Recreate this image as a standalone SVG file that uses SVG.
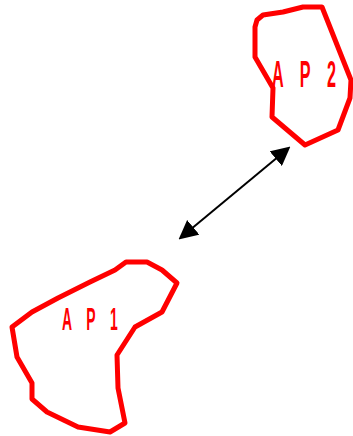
<svg xmlns="http://www.w3.org/2000/svg" width="353" height="436" viewBox="0 0 353 436">
<style>
.ap{fill:none;stroke:#ff0000;stroke-width:5;stroke-linejoin:round}
.lbl{font-family:"Liberation Sans",Arial,sans-serif;font-weight:bold;fill:#ff0000}
.conn{stroke:#000;stroke-width:2;fill:none}
</style>
<defs>
<marker id="ah" markerUnits="userSpaceOnUse" markerWidth="19" markerHeight="19" refX="7" refY="9" orient="auto-start-reverse" viewBox="0 0 18 18">
<path d="M0,0 L18,9 L0,18 z" fill="#000"/>
</marker>
</defs>
<rect width="353" height="436" fill="#fff"/>
<g id="ap2">
<polygon class="ap" points="257,20 263,15 283,12 303,7 322,7 351,80 350,98 338,130 305,145 272,117 273,88 255,57 255,27"/>
<text class="lbl" font-size="36" transform="translate(272,87) scale(0.45,1)" textLength="142" lengthAdjust="spacing">A P 2</text>
</g>
<g id="ap1">
<polygon class="ap" points="126,262 147,262 162,270 177,283 162,312 135,327 117,355 118,388 125,423 110,432 78,427 47,412 32,399 32,383 17,357 12,327 32,312 58,298 90,282 115,270"/>
<text class="lbl" font-size="31" transform="translate(62,330) scale(0.45,1)" textLength="124" lengthAdjust="spacing">A P 1</text>
</g>
<g id="connectors">
<path class="conn" d="M187.5,232 L281.5,154" marker-start="url(#ah)" marker-end="url(#ah)"/>
</g>
</svg>
